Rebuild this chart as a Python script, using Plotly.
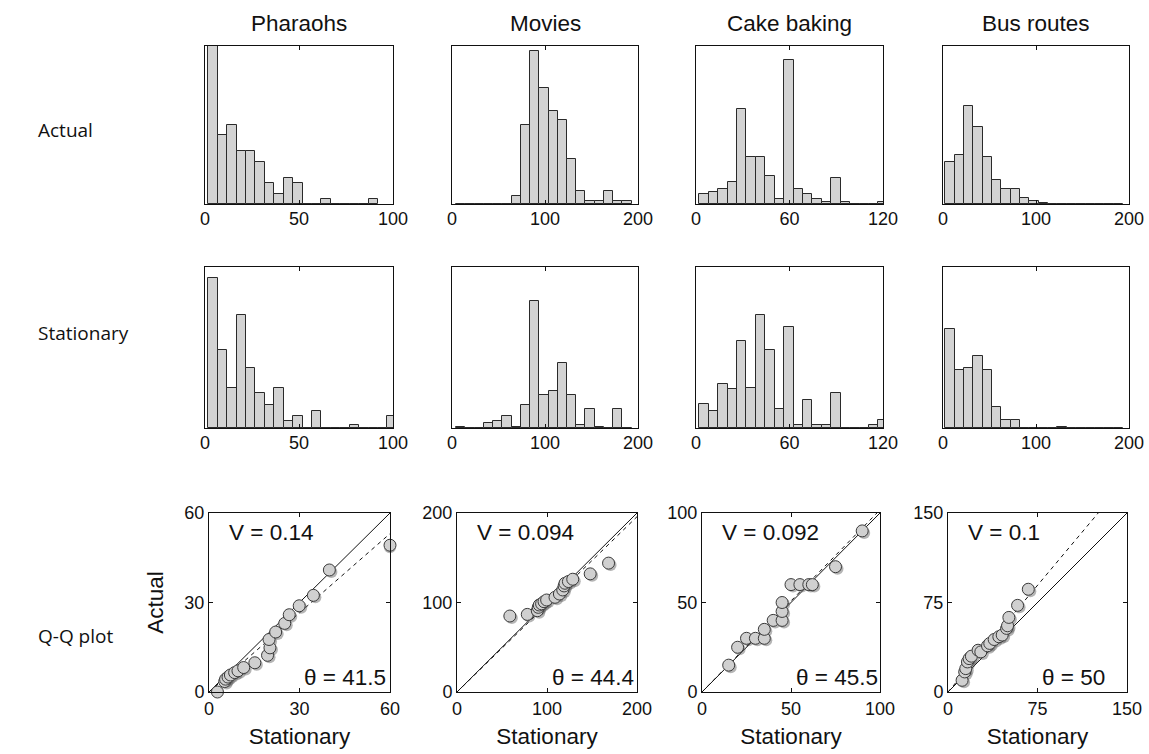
import math
import plotly.graph_objects as go

# ---------------- data ----------------
COLUMNS = ["Pharaohs", "Movies", "Cake baking", "Bus routes"]
ROW_LABELS = ["Actual", "Stationary", "Q-Q plot"]

HIST_XMAX = [100, 200, 120, 200]
HIST_TICKS = [[0, 50, 100], [0, 100, 200], [0, 60, 120], [0, 100, 200]]
BIN_START = [1.8, 4.5, 2.1, 2.5]
BIN_WIDTH = [5.01, 9.93, 6.05, 10.05]

# relative bar heights (percent of panel height)
ACTUAL_PHARAOHS = [110, 43.4, 50.2, 33.3, 33.3, 26.5, 13.1, 6.4, 16.3, 13.1, 0, 0, 3.0, 0, 0, 0, 0, 3.0]
ACTUAL_MOVIES = [0, 0, 0, 0, 0, 0, 5.0, 49.7, 96.9, 73.4, 58.7, 53.2, 28.7, 8.4, 1.7, 1.7, 8.4, 1.7, 1.7]
ACTUAL_CAKE = [6.3, 7.4, 9.7, 14.1, 60.0, 29.9, 29.9, 17.5, 2.9, 91.4, 9.7, 6.3, 2.9, 1.1, 16.2, 1.1, 0, 0, 0, 1.1]
ACTUAL_BUS = [26.3, 30.9, 62.3, 48.8, 29.9, 15.2, 9.7, 9.7, 4.0, 1.7, 0.8, 0, 0, 0, 0, 0, 0, 0, 0]

STAT_PHARAOHS = [93.2, 48.2, 25.1, 70.2, 37.3, 21.9, 14.1, 25.1, 4.1, 7.5, 0, 10.8, 0, 0, 0, 2.1, 0, 0, 0, 7.5]
STAT_MOVIES = [0.8, 0, 0, 3.1, 4.1, 7.5, 0.8, 14.1, 79.1, 20.7, 23.0, 40.6, 20.7, 2.1, 11.8, 0.8, 0, 11.8, 0]
STAT_CAKE = [15.1, 10.8, 27.3, 24.0, 53.8, 25.1, 70.4, 48.2, 11.8, 62.5, 2.1, 17.4, 2.1, 2.1, 21.7, 0, 0, 0, 2.1, 5.2]
STAT_BUS = [61.3, 36.0, 37.3, 44.9, 36.0, 13.0, 5.2, 5.2, 0, 0, 0, 0, 0.8, 0, 0, 0, 0, 0, 0]

ACTUAL_HISTS = [ACTUAL_PHARAOHS, ACTUAL_MOVIES, ACTUAL_CAKE, ACTUAL_BUS]
STAT_HISTS = [STAT_PHARAOHS, STAT_MOVIES, STAT_CAKE, STAT_BUS]

QQ_MAX = [60, 200, 100, 150]
QQ_TICKS = [[0, 30, 60], [0, 100, 200], [0, 50, 100], [0, 75, 150]]
QQ_V = ["0.14", "0.094", "0.092", "0.1"]
QQ_THETA = [41.5, 44.4, 45.5, 50]

QQ_PHARAOHS_X = [2.8, 5.2, 5.5, 6.3, 7.1, 8.5, 9.6, 11.5, 15.2, 19.4, 20.2, 19.9, 22.1, 25.1, 26.6, 29.9, 34.6, 39.9, 60.0]
QQ_PHARAOHS_Y = [0.0, 3.5, 4.3, 5.0, 5.7, 6.5, 7.1, 8.2, 9.8, 12.3, 14.8, 17.6, 20.1, 23.0, 25.9, 28.9, 32.4, 40.9, 49.2]
QQ_MOVIES_X = [58.7, 78.1, 89.2, 90.3, 91.4, 94.0, 96.7, 99.6, 108.9, 113.8, 117.5, 119.0, 120.0, 123.8, 128.6, 148.0, 168.4]
QQ_MOVIES_Y = [84.9, 86.7, 90.8, 94.6, 97.2, 98.5, 100.9, 102.8, 105.8, 109.5, 114.0, 118.5, 121.5, 123.4, 126.0, 132.0, 144.0]
QQ_CAKE_X = [15, 20, 25, 30, 35, 35, 40, 45, 45, 45, 50, 55, 60, 62, 75, 90]
QQ_CAKE_Y = [15, 25, 30, 30, 30, 35, 40, 40, 45, 50, 60, 60, 60, 60, 70, 90]
QQ_BUS_X = [11.8, 14.0, 14.9, 16.3, 17.7, 19.6, 25.2, 27.5, 33.1, 35.0, 38.7, 42.6, 45.4, 49.1, 49.9, 51.0, 58.3, 67.3]
QQ_BUS_Y = [9.8, 16.8, 19.6, 25.2, 28.0, 30.0, 35.0, 33.6, 38.7, 40.7, 44.0, 46.3, 47.7, 53.3, 55.5, 62.5, 72.6, 86.1]

QQ_XS = [QQ_PHARAOHS_X, QQ_MOVIES_X, QQ_CAKE_X, QQ_BUS_X]
QQ_YS = [QQ_PHARAOHS_Y, QQ_MOVIES_Y, QQ_CAKE_Y, QQ_BUS_Y]

# ---------------- layout geometry ----------------
W, H = 1149, 754
HIST_COLS_PX = [(205, 393), (452, 638), (696, 883), (943, 1129)]
QQ_COLS_PX = [(209, 390), (457, 637), (702, 880), (948, 1127)]
ROWS_PX = [(46, 204), (267, 428), (513, 692)]

def px_x(x):
    return x / W

def px_y(y):
    return 1 - y / H

def xdom(a, b):
    return [px_x(a), px_x(b)]

def ydom(top, bot):
    return [px_y(bot), px_y(top)]

TICK_FONT = dict(family="Liberation Sans, Arial, sans-serif", size=18, color="#111")
TEXT_FONT = dict(family="Liberation Sans, Arial, sans-serif", size=22.5, color="#111")
INNER_FONT = dict(family="Liberation Sans, Arial, sans-serif", size=22.5, color="#111")
ROW_FONT = dict(family="Open Sans, sans-serif", size=19, color="#111")

BAR_FILL = "#d3d3d3"
BAR_EDGE = "#2a2a2a"

fig = go.Figure()
layout = {}

def axis_name(idx, kind):
    return f"{kind}axis" if idx == 1 else f"{kind}axis{idx}"

def ref(idx, kind):
    return kind if idx == 1 else f"{kind}{idx}"

base_axis = dict(showline=True, mirror="ticks", linecolor="#111", linewidth=1,
                 showgrid=False, zeroline=False, ticks="inside", ticklen=4,
                 tickcolor="#111", tickfont=TICK_FONT, automargin=False)

for r in range(2):
    hists = ACTUAL_HISTS if r == 0 else STAT_HISTS
    for c in range(4):
        idx = r * 4 + c + 1
        counts = hists[c]
        centers = [BIN_START[c] + BIN_WIDTH[c] * (i + 0.5) for i in range(len(counts))]
        fig.add_trace(go.Bar(
            x=centers, y=counts, width=BIN_WIDTH[c],
            marker=dict(color=BAR_FILL, line=dict(color=BAR_EDGE, width=1)),
            xaxis=ref(idx, "x"), yaxis=ref(idx, "y"), showlegend=False,
        ))
        layout[axis_name(idx, "x")] = dict(
            base_axis, domain=xdom(*HIST_COLS_PX[c]), anchor=ref(idx, "y"),
            range=[0, HIST_XMAX[c]], tickvals=HIST_TICKS[c], ticklabelstandoff=-2,
        )
        layout[axis_name(idx, "y")] = dict(
            base_axis, domain=ydom(*ROWS_PX[r]), anchor=ref(idx, "x"),
            range=[0, 100], showticklabels=False, ticks="", mirror=True,
        )

annotations = []
for c in range(4):
    idx = 8 + c + 1
    m = QQ_MAX[c]
    xr, yr = ref(idx, "x"), ref(idx, "y")
    x0, x1 = QQ_COLS_PX[c]
    # identity line
    fig.add_trace(go.Scatter(x=[0, m], y=[0, m], mode="lines",
                             line=dict(color="#111", width=1),
                             xaxis=xr, yaxis=yr, showlegend=False))
    # dashed line at angle theta
    slope = math.tan(math.radians(QQ_THETA[c]))
    x_end = min(m, m / slope)
    fig.add_trace(go.Scatter(x=[0, x_end], y=[0, slope * x_end], mode="lines",
                             line=dict(color="#111", width=1, dash="4px,4px"),
                             xaxis=xr, yaxis=yr, showlegend=False))
    # soft drop shadow under the markers (2 px right / down)
    d = 2.0 * m / (x1 - x0)
    fig.add_trace(go.Scatter(x=[min(v + d, m) for v in QQ_XS[c]], y=[v - d for v in QQ_YS[c]],
                             mode="markers",
                             marker=dict(size=12, color="rgba(90,90,90,0.45)", line=dict(width=0)),
                             cliponaxis=False, hoverinfo="skip",
                             xaxis=xr, yaxis=yr, showlegend=False))
    fig.add_trace(go.Scatter(x=QQ_XS[c], y=QQ_YS[c], mode="markers",
                             marker=dict(size=12, color="#d0d0d0",
                                         line=dict(color="#3a3a3a", width=1)),
                             cliponaxis=False,
                             xaxis=xr, yaxis=yr, showlegend=False))
    layout[axis_name(idx, "x")] = dict(
        base_axis, domain=xdom(x0, x1), anchor=yr,
        range=[0, m], tickvals=QQ_TICKS[c],
        title=dict(text="Stationary", font=INNER_FONT, standoff=10),
    )
    yax = dict(base_axis, domain=ydom(*ROWS_PX[2]), anchor=xr,
               range=[0, m], tickvals=QQ_TICKS[c])
    if c == 0:
        yax["title"] = dict(text="Actual", font=INNER_FONT, standoff=14)
    layout[axis_name(idx, "y")] = yax
    annotations.append(dict(text=f"V = {QQ_V[c]}", xref=f"{xr} domain", yref=f"{yr} domain",
                            x=0.10, y=0.89, xanchor="left", yanchor="middle",
                            showarrow=False, font=INNER_FONT))
    annotations.append(dict(text=f"\u03b8 = {QQ_THETA[c]:g}", xref=f"{xr} domain", yref=f"{yr} domain",
                            x=0.515, y=0.08, xanchor="left", yanchor="middle",
                            showarrow=False, font=INNER_FONT))

# column titles
for c in range(4):
    a, b = HIST_COLS_PX[c]
    annotations.append(dict(text=COLUMNS[c], xref="paper", yref="paper",
                            x=px_x((a + b) / 2), y=px_y(23), xanchor="center", yanchor="middle",
                            showarrow=False, font=TEXT_FONT))

# row labels
ROW_Y_PX = [130, 333, 636]
for r in range(3):
    annotations.append(dict(text=ROW_LABELS[r], xref="paper", yref="paper",
                            x=px_x(36), y=px_y(ROW_Y_PX[r]), xanchor="left", yanchor="middle",
                            showarrow=False, font=ROW_FONT))

fig.update_layout(
    width=W, height=H, margin=dict(l=0, r=0, t=0, b=0, autoexpand=False),
    paper_bgcolor="white", plot_bgcolor="white",
    bargap=0, barmode="overlay",
    annotations=annotations, showlegend=False,
    **layout,
)

fig.write_html("out.html")
